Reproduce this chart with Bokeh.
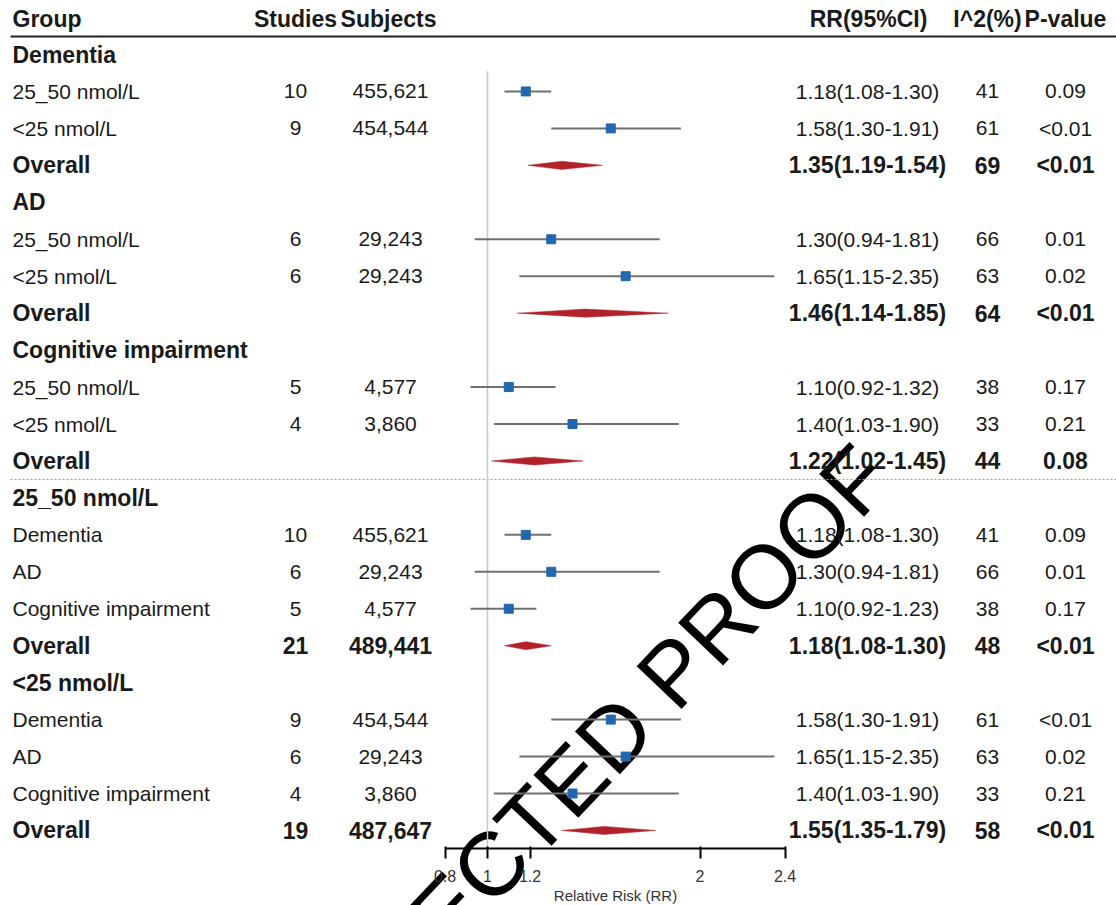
import math

from bokeh.core.properties import value
from bokeh.embed import file_html
from bokeh.models import ColumnDataSource, FixedTicker, Label, LinearAxis, Range1d
from bokeh.plotting import figure
from bokeh.resources import INLINE

# ---- table content -------------------------------------------------------
row_labels = [
    "Dementia", "25_50 nmol/L", "<25 nmol/L", "Overall",
    "AD", "25_50 nmol/L", "<25 nmol/L", "Overall",
    "Cognitive impairment", "25_50 nmol/L", "<25 nmol/L", "Overall",
    "25_50 nmol/L", "Dementia", "AD", "Cognitive impairment", "Overall",
    "<25 nmol/L", "Dementia", "AD", "Cognitive impairment", "Overall",
]
row_type = [
    "head", "sub", "sub", "overall",
    "head", "sub", "sub", "overall",
    "head", "sub", "sub", "overall",
    "head", "sub", "sub", "sub", "overall",
    "head", "sub", "sub", "sub", "overall",
]
studies = ["", "10", "9", "", "", "6", "6", "", "", "5", "4", "",
           "", "10", "6", "5", "21", "", "9", "6", "4", "19"]
subjects = ["", "455,621", "454,544", "", "", "29,243", "29,243", "",
            "", "4,577", "3,860", "", "", "455,621", "29,243", "4,577", "489,441",
            "", "454,544", "29,243", "3,860", "487,647"]
rr = [None, 1.18, 1.58, 1.35, None, 1.30, 1.65, 1.46, None, 1.10, 1.40, 1.22,
      None, 1.18, 1.30, 1.10, 1.18, None, 1.58, 1.65, 1.40, 1.55]
rr_low = [None, 1.08, 1.30, 1.19, None, 0.94, 1.15, 1.14, None, 0.92, 1.03, 1.02,
          None, 1.08, 0.94, 0.92, 1.08, None, 1.30, 1.15, 1.03, 1.35]
rr_high = [None, 1.30, 1.91, 1.54, None, 1.81, 2.35, 1.85, None, 1.32, 1.90, 1.45,
           None, 1.30, 1.81, 1.23, 1.30, None, 1.91, 2.35, 1.90, 1.79]
i2 = ["", "41", "61", "69", "", "66", "63", "64", "", "38", "33", "44",
      "", "41", "66", "38", "48", "", "61", "63", "33", "58"]
p_value = ["", "0.09", "<0.01", "<0.01", "", "0.01", "0.02", "<0.01", "", "0.17", "0.21", "0.08",
           "", "0.09", "0.01", "0.17", "<0.01", "", "<0.01", "0.02", "0.21", "<0.01"]

headers = ["Group", "Studies", "Subjects", "RR(95%CI)", "I^2(%)", "P-value"]
tick_values = [0.8, 1.0, 1.2, 2.0, 2.4]
tick_labels = ["0.8", "1", "1.2", "2", "2.4"]
axis_title = "Relative Risk (RR)"
stamp_text = "CORRECTED PROOF"

# ---- layout --------------------------------------------------------------
W, H = 1116, 905
AXIS_PX = 848                      # pixel row of the RR axis line
ROW0, STEP = 54.0, 36.95           # pixel centre of first row, row pitch
RR_AT_1, PX_PER_RR = 487.0, 212.5  # pixel position of RR = 1, pixels per RR unit
FONT = "Liberation Sans"
FS_REG, FS_BOLD = "21px", "23px"
INK = "#1a1a1a"


def row_of(px):
    """Row coordinate of a pixel height measured from the top."""
    return (px - ROW0) / STEP


n = len(row_labels)
rows = list(range(n))
rr_ci_text = ["" if r is None else f"{r:.2f}({lo:.2f}-{hi:.2f})"
              for r, lo, hi in zip(rr, rr_low, rr_high)]

p = figure(
    frame_width=W, frame_height=H,
    x_range=Range1d(0, W),
    y_range=Range1d(row_of(H), row_of(0)),
    x_axis_location=None, y_axis_location=None,
    toolbar_location=None, output_backend="svg",
    min_border=0, outline_line_color=None,
    background_fill_color="white", border_fill_color="white",
)
p.grid.visible = False
p.extra_x_ranges = {"rr": Range1d(1 - RR_AT_1 / PX_PER_RR, 1 + (W - RR_AT_1) / PX_PER_RR)}

# ---- stamp (behind the marks) ---------------------------------------------
p.add_layout(Label(x=559, y=row_of(792), text=stamp_text, angle=46.5,
                   angle_units="deg", text_align="center", text_baseline="middle",
                   text_font=FONT, text_font_size="90px", text_color="black",
                   level="underlay"))

# ---- rules ---------------------------------------------------------------
p.segment(x0=[10], x1=[W], y0=[row_of(36)], y1=[row_of(36)],
          line_color="#222222", line_width=2)
p.segment(x0=[10], x1=[W], y0=[11.5], y1=[11.5],
          line_color="#9a9a9a", line_width=1, line_dash="2 2")
p.segment(x0=[1.0], x1=[1.0], y0=[0.45], y1=[row_of(AXIS_PX)],
          line_color="#c8c8c8", line_width=1.5, x_range_name="rr")

# ---- forest marks ---------------------------------------------------------
est = [i for i in rows if row_type[i] == "sub"]
ovr = [i for i in rows if row_type[i] == "overall"]

ci = ColumnDataSource(dict(y=est, est=[rr[i] for i in est],
                           lo=[rr_low[i] for i in est], hi=[rr_high[i] for i in est]))
p.segment(x0="lo", x1="hi", y0="y", y1="y", source=ci,
          line_color="#707070", line_width=2, x_range_name="rr")
p.scatter(x="est", y="y", source=ci, marker="square", size=9,
          fill_color="#2367ae", line_color="#2367ae", x_range_name="rr")

dh = 0.11
dia = ColumnDataSource(dict(
    xs=[[rr_low[i], rr[i], rr_high[i], rr[i]] for i in ovr],
    ys=[[i, i - dh, i, i + dh] for i in ovr],
))
p.patches(xs="xs", ys="ys", source=dia, fill_color="#b2222a",
          line_color="#b2222a", line_width=0.5, x_range_name="rr")

# ---- table text ------------------------------------------------------------
columns = [
    (row_labels, 12, "left"),
    (studies, 295, "center"),
    (subjects, 390, "center"),
    (rr_ci_text, 867, "center"),
    (i2, 987, "center"),
    (p_value, 1065, "center"),
]
for texts, xpos, align in columns:
    for style, size, kinds in (("normal", FS_REG, ("sub",)),
                               ("bold", FS_BOLD, ("head", "overall"))):
        idx = [i for i in rows if row_type[i] in kinds and texts[i]]
        src = ColumnDataSource(dict(x=[xpos] * len(idx), y=idx, t=[texts[i] for i in idx]))
        p.text(x="x", y="y", text="t", source=src, text_align=align,
               text_baseline="middle", text_font=value(FONT), text_font_size=size,
               text_font_style=style, text_color=INK)

hdr = ColumnDataSource(dict(x=[12, 295, 388, 868, 987, 1065], y=[row_of(18)] * 6, t=headers,
                            a=["left"] + ["center"] * 5))
p.text(x="x", y="y", text="t", source=hdr, text_align="a", text_baseline="middle",
       text_font=value(FONT), text_font_size=FS_BOLD, text_font_style="bold", text_color=INK)

# ---- RR axis (pinned at the foot of the table) --------------------------------
ax = LinearAxis(x_range_name="rr", bounds=(tick_values[0], tick_values[-1]),
                fixed_location=row_of(AXIS_PX),
                ticker=FixedTicker(ticks=tick_values),
                major_label_overrides=dict(zip(tick_values, tick_labels)))
ax.axis_line_width = 2
ax.axis_line_color = "black"
ax.major_tick_line_width = 2
ax.major_tick_line_color = "black"
ax.major_tick_out = 10
ax.major_tick_in = 2
ax.minor_tick_out = 0
ax.minor_tick_in = 0
ax.major_label_standoff = 11
ax.major_label_text_font = FONT
ax.major_label_text_font_size = "16px"
ax.major_label_text_color = "#333333"
ax.axis_label = axis_title
ax.axis_label_standoff = 2
ax.axis_label_text_font = FONT
ax.axis_label_text_font_size = "15px"
ax.axis_label_text_font_style = "normal"
ax.axis_label_text_color = "#333333"
p.add_layout(ax, "below")

open("out.html", "w").write(file_html(p, INLINE))
